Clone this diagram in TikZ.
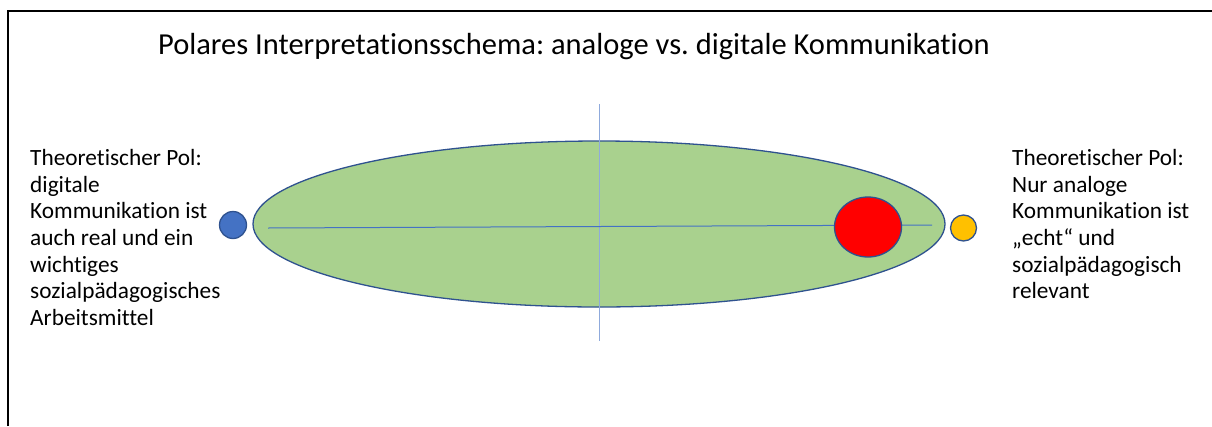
\documentclass[tikz,border=0pt]{standalone}
\usepackage{fontspec}
\setmainfont{Carlito}[Ligatures=NoCommon]
\frenchspacing
\usetikzlibrary{shapes.geometric}
\definecolor{oliveG}{HTML}{A9D18E}
\definecolor{edgeB}{HTML}{2F528F}
\definecolor{midB}{HTML}{4472C4}
\definecolor{lightB}{HTML}{8FAADC}
\definecolor{ambr}{HTML}{FFC000}
\tikzset{
  dot/.style={shape=ellipse, draw=edgeB, line width=1.3pt, inner sep=0pt},
  poltext/.style={anchor=north west, align=left, inner sep=0pt, font=\fontsize{23.3}{26.7}\selectfont},
  axis/.style={line width=1pt}
}
\begin{document}
\begin{tikzpicture}[x=1pt,y=-1pt]
\useasboundingbox (0,0) rectangle (1212,426);
\draw[line width=2pt] (8,426) -- (8,11) -- (1212,11);
\node (title) at (574,47) {\fontsize{30.5}{36}\selectfont Polares Interpretationsschema: analoge vs. digitale Kommunikation};
\node[dot, fill=oliveG, minimum width=692pt, minimum height=166pt] (field) at (599,224) {};
\coordinate (vt) at (599,104);
\coordinate (vb) at (599,341);
\draw[axis, draw=lightB] (vt) -- (vb);
\coordinate (hl) at (268,228);
\coordinate (hr) at (932,225);
\draw[axis, draw=midB] (hl) -- (hr);
\node[dot, fill=midB, minimum width=27pt, minimum height=27pt] (digital) at (233,225) {};
\node[dot, fill=red, minimum width=67pt, minimum height=60pt] (position) at (868,227) {};
\node[dot, fill=ambr, minimum width=26pt, minimum height=26pt] (analog) at (963.5,228) {};
\node[poltext] (lefttext) at (30,149) {Theoretischer Pol:\\digitale\\Kommunikation ist\\auch real und ein\\wichtiges\\sozialpädagogisches\\Arbeitsmittel};
\node[poltext] (righttext) at (1012,149) {Theoretischer Pol:\\Nur analoge\\Kommunikation ist\\„echt“ und\\sozialpädagogisch\\relevant};
\end{tikzpicture}
\end{document}
